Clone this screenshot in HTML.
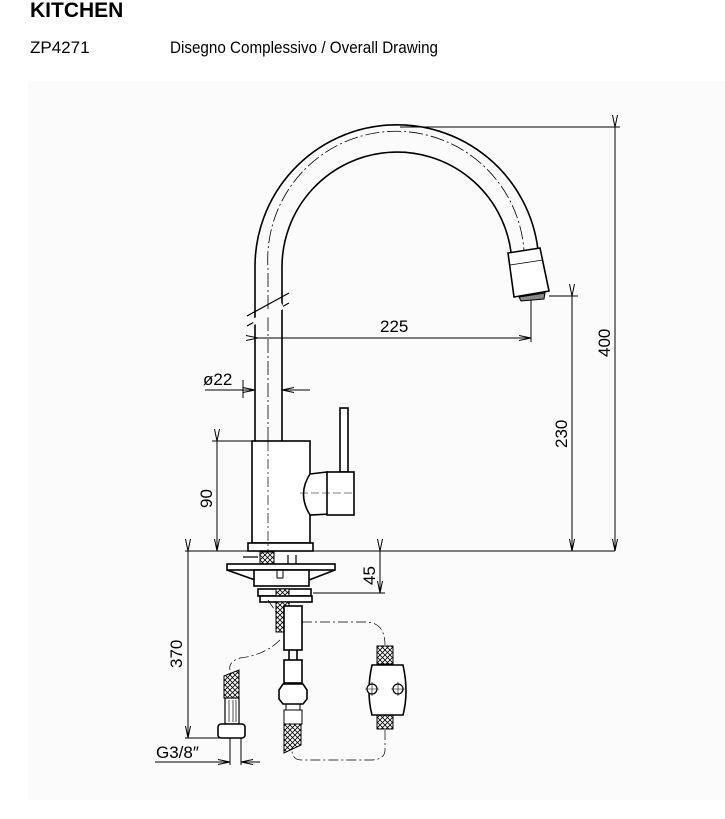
<!DOCTYPE html>
<html><head><meta charset="utf-8"><style>
body{margin:0;background:#fff;width:725px;height:814px;overflow:hidden;font-family:"Liberation Sans",sans-serif}
</style></head><body>
<svg width="725" height="814" viewBox="0 0 725 814" xmlns="http://www.w3.org/2000/svg" font-family="Liberation Sans, sans-serif">
<defs>
<pattern id="h" width="5" height="5" patternUnits="userSpaceOnUse">
<rect width="5" height="5" fill="#fff"/><path d="M0 0L5 5M5 0L0 5" stroke="#000" stroke-width="0.8"/>
</pattern>
<marker id="a" markerWidth="12" markerHeight="6" refX="12" refY="3" orient="auto" markerUnits="userSpaceOnUse"><path d="M0 0.5L12 3L0 5.5" fill="none" stroke="#000" stroke-width="1"/></marker>
</defs>
<rect x="28" y="81" width="697" height="719" fill="#fbfbfb"/>
<text x="30" y="17" font-size="21" font-weight="bold">KITCHEN</text>
<text x="30" y="53" font-size="17">ZP4271</text>
<text x="170" y="53" font-size="17" textLength="268" lengthAdjust="spacingAndGlyphs">Disegno Complessivo / Overall Drawing</text>

<g fill="none" stroke="#000" stroke-width="1.6">
<path d="M255 441 V268 A142 142 0 0 1 538 250"/>
<path d="M282 441 V268 A115 115 0 0 1 511 252"/>
<path d="M268 441 V268 A128 128 0 0 1 524 251" stroke-width="0.8" stroke-dasharray="14 3 2 3"/>
<path d="M508 253 L540 248 L549 291 L514 297 Z" fill="#fff"/>
<path d="M510 265 L543 260" stroke-width="0.8"/>
<path d="M519 297 L545 293 L544 299 L521 301 Z" fill="#888" stroke-width="1"/>
<path d="M247 316 L289 293 M247 326 L289 303" stroke-width="1.2"/>
<rect x="251" y="311" width="34" height="6" fill="#fbfbfb" stroke="none" transform="rotate(-29 268 314)"/>
<rect x="252" y="441" width="58" height="102" fill="#fff"/>
<rect x="248" y="543" width="65" height="8" fill="#fff"/>
<path d="M268 441 V551" stroke-width="0.7" stroke-dasharray="10 3 2 3"/>
<rect x="340" y="408" width="8" height="64" fill="#fff"/>
<path d="M310 474 L327 472 L330 514 L310 515 Q297 494 310 474 Z" fill="#fff"/>
<rect x="327" y="472" width="27" height="43" fill="#fff"/>
<path d="M300 493 H354" stroke-width="0.6" stroke-dasharray="8 3"/>
<path d="M185 551 H615" stroke-width="1.1"/>
<rect x="260" y="552" width="14" height="13" fill="url(#h)" stroke-width="1"/>
<path d="M243 557 H258 M288 555 V565 M296 555 V565" stroke-width="1.2"/>
<rect x="227" y="564" width="108" height="6" fill="#fff"/>
<path d="M227 570 L255 580 M335 570 L309 580"/>
<rect x="254" y="570" width="55" height="16" fill="#fff"/>
<rect x="277" y="570" width="6" height="8" stroke-width="1"/>
<rect x="258" y="589" width="53" height="7" fill="#fff"/>
<rect x="276" y="589" width="13" height="7" fill="url(#h)" stroke-width="1"/>
<rect x="260" y="596" width="52" height="6" fill="#fff"/>
<rect x="276" y="602" width="13" height="30" fill="url(#h)" stroke-width="1"/>
<rect x="284" y="606" width="18" height="44" fill="#fff"/>
<path d="M289 650 V660 M297 650 V660"/>
<rect x="284" y="660" width="18" height="23" fill="#fff"/>
<path d="M279 690 L283 684 H303 L307 690 V699 L303 704 H283 L279 699 Z" fill="#fff"/>
<rect x="286" y="704" width="14" height="6" stroke-width="1"/>
<rect x="284" y="710" width="18" height="14" fill="#fff" stroke-width="1"/>
<path d="M284 724 H301 V745 L284 753 Z" fill="url(#h)" stroke-width="1"/>
<path d="M224 676 L239 670 V698 H224 Z" fill="url(#h)" stroke-width="1"/>
<rect x="225" y="698" width="14" height="26" fill="#fff" stroke-width="1.2"/>
<path d="M229 700 V722 M233 700 V722 M236 700 V722" stroke-width="0.7"/>
<rect x="218" y="724" width="27" height="14" rx="3" fill="#fff"/>
<rect x="377" y="646" width="16" height="18" fill="url(#h)" stroke-width="1"/>
<rect x="377" y="713" width="16" height="16" fill="url(#h)" stroke-width="1"/>
<path d="M372 665 H403 Q409 692 403 715 H372 Q366 692 372 665 Z" fill="#fff"/>
<circle cx="372" cy="689" r="5" fill="#fff" stroke-width="1.2"/>
<circle cx="398" cy="689" r="5" fill="#fff" stroke-width="1.2"/>
<path d="M365 689H379M372 682V696M391 689H405M398 682V696" stroke-width="0.6"/>
</g>
<g fill="none" stroke="#000" stroke-width="0.7" stroke-dasharray="10 3 2 3">
<path d="M302 622 H365 Q385 622 385 645"/>
<path d="M385 730 V750 Q385 760 370 760 H302 Q292 760 292 750"/>
<path d="M280 640 Q265 655 240 658 Q228 662 230 670"/>
<path d="M268 600 L276 612"/>
</g>
<g fill="none" stroke="#000" stroke-width="1">
<path d="M400 127 H620"/>
<path d="M615 127 V551" marker-start="url(#a)" marker-end="url(#a)"/>
<path d="M549 296 H578"/>
<path d="M572 296 V551" marker-start="url(#a)" marker-end="url(#a)"/>
<path d="M531 300 V342"/>
<path d="M258 338 H531" marker-start="url(#a)" marker-end="url(#a)"/>
<path d="M205 390 H255" marker-end="url(#a)"/>
<path d="M310 390 H282" marker-end="url(#a)"/>
<path d="M243 380 V398"/>
<path d="M212 441 H252"/>
<path d="M217 441 V551" marker-start="url(#a)" marker-end="url(#a)"/>
<path d="M313 593 H385"/>
<path d="M380 551 V593" marker-start="url(#a)" marker-end="url(#a)"/>
<path d="M188 551 V738" marker-start="url(#a)" marker-end="url(#a)"/>
<path d="M185 738 H225"/>
<path d="M230 738 V765 M241 738 V765"/>
<path d="M155 762 H230" marker-end="url(#a)"/>
<path d="M260 762 H241" marker-end="url(#a)"/>
</g>
<g font-size="17" fill="#000">
<text x="380" y="332">225</text>
<text x="203" y="385">ø22</text>
<text transform="translate(610 357) rotate(-90)">400</text>
<text transform="translate(567 448) rotate(-90)">230</text>
<text transform="translate(212 508) rotate(-90)">90</text>
<text transform="translate(375 585) rotate(-90)">45</text>
<text transform="translate(182 668) rotate(-90)">370</text>
<text x="156" y="758">G3/8″</text>
</g>
</svg>
</body></html>
